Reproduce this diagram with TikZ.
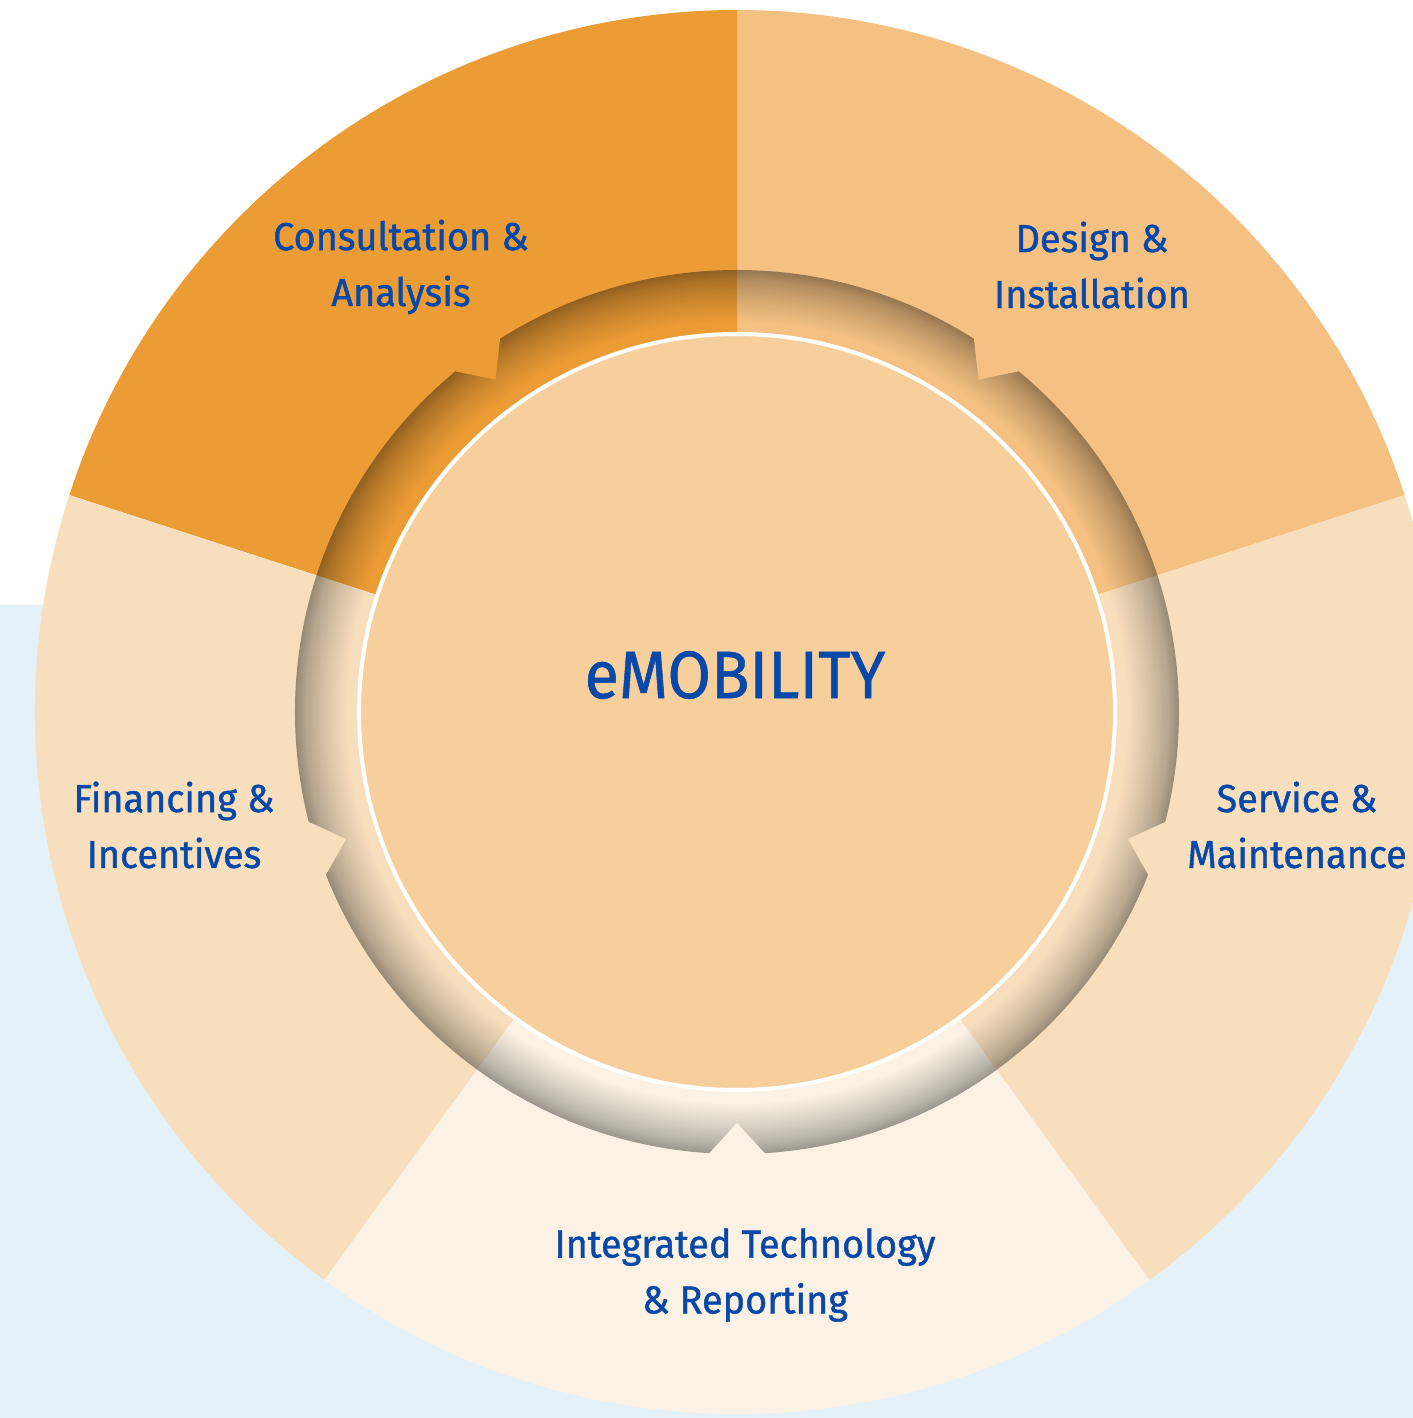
\documentclass[tikz,border=0pt]{standalone}
\usepackage{fontspec}
\setmainfont{Fira Sans}
\newfontfamily\labelfont[FakeBold=1.1,FakeStretch=0.97]{Fira Sans}
\newfontfamily\hubfont[FakeBold=0.8,FakeStretch=0.94]{Fira Sans}
\usetikzlibrary{fadings}

\definecolor{segconsult}{HTML}{EC9C35}
\definecolor{segdesign}{HTML}{F4C182}
\definecolor{segservice}{HTML}{F7DFBE}
\definecolor{segtech}{HTML}{FBF1E4}
\definecolor{hubfill}{HTML}{F6CF9D}
\definecolor{bgblue}{HTML}{E4F1F8}
\definecolor{textblue}{HTML}{0848A8}

% dark rim along the outer edge of the groove (black = see-through)
\pgfdeclareradialshading{grooveshading}{\pgfpointorigin}{%
  color(0bp)=(black); color(22bp)=(black);
  color(23.2bp)=(black!88); color(24.3bp)=(black!74);
  color(25bp)=(black!60); color(50bp)=(black!60)}
\pgfdeclarefading{grooveshade}{\pgfuseshading{grooveshading}}

\tikzset{
  seglabel/.style={text=textblue, align=center,
    font=\labelfont\fontsize{11.1}{15.9}\selectfont},
  hublabel/.style={text=textblue, font=\hubfont\fontsize{19.1}{23}\selectfont},
  hubdisc/.style={circle, fill=hubfill, draw=white, line width=1.15pt,
    minimum size=7.56cm, inner sep=0pt}
}

\begin{document}
\begin{tikzpicture}
  \useasboundingbox (-7.37,-7.06) rectangle (6.76,7.12);
  \clip (-7.37,-7.06) rectangle (6.76,7.12);
  \fill[bgblue] (-7.37,-7.06) rectangle (6.76,1.07);

  % the five segments
  \foreach \a/\c in {18/segdesign, 90/segconsult, 162/segservice,
                     234/segtech, 306/segservice}
  {
    \fill[\c] (0,0) -- (\a:7.02) arc[start angle=\a, delta angle=72, radius=7.02] -- cycle;
  }

  % groove round the hub
  \fill[black, path fading=grooveshade, even odd rule]
    (0,0) circle (4.42) (0,0) circle (3.70);

  % pointers into the groove
  \foreach \m/\c in {54/segdesign, 126/segconsult, 198/segservice,
                     270/segtech, 342/segservice}
  {
    \fill[\c] (\m+4:4.46) -- (\m:4.11) -- (\m-4:4.46) -- cycle;
  }

  \node[hubdisc] (hub) at (0,0) {};
  \node[hublabel] (emob) at (-0.02,0.37) {eMOBILITY};

  \node[seglabel] (consult) at (-3.36,4.45) {Consultation \&\\Analysis};
  \node[seglabel] (design) at (3.55,4.47) {Design \&\\Installation};
  \node[seglabel] (service) at (5.60,-1.13) {Service \&\\Maintenance};
  \node[seglabel] (finance) at (-5.63,-1.13) {Financing \&\\Incentives};
  \node[seglabel] (tech) at (0.08,-5.63) {Integrated Technology\\\& Reporting};
\end{tikzpicture}
\end{document}
